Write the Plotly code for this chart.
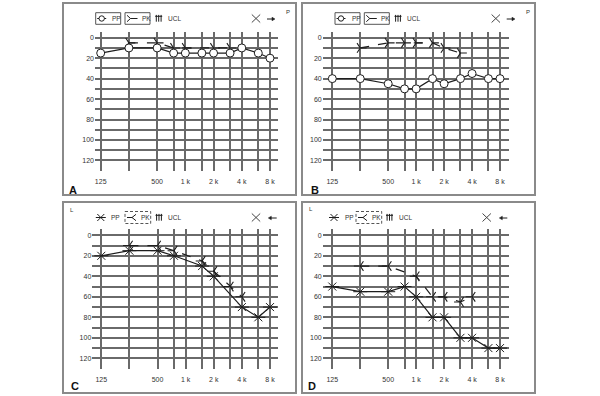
import plotly.graph_objects as go

W, H = 600, 396

# ---------------- data ----------------
FREQS = [125, 250, 500, 750, 1000, 1500, 2000, 3000, 4000, 6000, 8000]
FREQ_LABELS = ["125", "", "500", "", "1 k", "", "2 k", "", "4 k", "", "8 k"]
DB_TICKS = [0, 10, 20, 30, 40, 50, 60, 70, 80, 90, 100, 110, 120, 130]
DB_LABELS = ["0", "", "20", "", "40", "", "60", "", "80", "", "100", "", "120", ""]

A_PP_F = [125, 250, 500, 750, 1000, 1500, 2000, 3000, 4000, 6000, 8000]
A_PP = [15, 10, 10, 15, 15, 15, 15, 15, 10, 15, 20]
A_PK_F = [250, 500, 750, 1000, 2000, 3000]
A_PK = [5, 5, 10, 10, 10, 10]

B_PP_F = [125, 250, 500, 750, 1000, 1500, 2000, 3000, 4000, 6000, 8000]
B_PP = [40, 40, 45, 50, 50, 40, 45, 40, 35, 40, 40]
B_PK_F = [250, 500, 750, 1000, 1500, 2000, 3000]
B_PK = [10, 5, 5, 5, 5, 10, 15]

C_PP_F = [125, 250, 500, 750, 1500, 2000, 4000, 6000, 8000]
C_PP = [20, 15, 15, 20, 30, 40, 70, 80, 70]
C_PK_F = [250, 500, 750, 1500, 2000, 3000, 4000]
C_PK = [10, 10, 15, 25, 35, 50, 60]

D_PP_F = [125, 250, 500, 750, 1000, 1500, 2000, 3000, 4000, 6000, 8000]
D_PP = [50, 55, 55, 50, 60, 80, 80, 100, 100, 110, 110]
D_PK_F = [250, 500, 1000, 1500, 2000, 3000, 4000]
D_PK = [30, 30, 40, 60, 60, 65, 60]

INK = "#1e1e1e"
GRID = "#6a6a6a"
TXT = "#333333"
FONT = "Liberation Sans, Arial, sans-serif"


def PX(x):
    return x / W


def PY(y):
    return 1 - y / H


# panel geometry (pixels)
panels = [
    dict(letter="A", side="R", box=(63, 3, 296, 195), plot_x=(95, 278.3), plot_y=(32.2, 171.2),
         xr=[2.0361, 3.9916], yr=[130.5, -5.4],
         pp_f=A_PP_F, pp=A_PP, pk_f=A_PK_F, pk=A_PK,
         leg=dict(cy=18.5, b1=(95.7, 120.7), b2=(125, 150), ucl=155.7, x=256, arr=(267, 275),
                  corner=(288.3, 11.7), let=(73, 189.5))),
    dict(letter="B", side="R", box=(302, 3, 535, 195), plot_x=(322.7, 509.3), plot_y=(32.2, 171.2),
         xr=[1.9935, 4.0033], yr=[130.5, -5.4],
         pp_f=B_PP_F, pp=B_PP, pk_f=B_PK_F, pk=B_PK,
         leg=dict(cy=18.5, b1=(335, 360), b2=(364.3, 389.3), ucl=395, x=495.8, arr=(506.7, 515),
                  corner=(527.7, 11.7), let=(315, 189.5))),
    dict(letter="C", side="L", box=(63, 202, 296, 393), plot_x=(92.3, 278.3), plot_y=(229.35, 369.1),
         xr=[2.0005, 3.992], yr=[130.5, -5.8],
         pp_f=C_PP_F, pp=C_PP, pk_f=C_PK_F, pk=C_PK,
         leg=dict(cy=217.5, pp=100.8, b2=(125, 150.7), ucl=156, x=256, arr=(268.3, 276.7),
                  corner=(71.7, 210), let=(75, 385.5))),
    dict(letter="D", side="L", box=(302, 202, 535, 393), plot_x=(322.7, 509.3), plot_y=(229.35, 369.1),
         xr=[1.9935, 4.0033], yr=[130.5, -5.8],
         pp_f=D_PP_F, pp=D_PP, pk_f=D_PK_F, pk=D_PK,
         leg=dict(cy=217.5, pp=334, b2=(356, 381.7), ucl=386.5, x=486.7, arr=(499.3, 507.3),
                  corner=(311, 209.3), let=(311.7, 386))),
]

fig = go.Figure()
shapes = []
annotations = []
layout_axes = {}


def line(x0, y0, x1, y1, color=INK, width=1, dash="solid"):
    shapes.append(dict(type="line", xref="paper", yref="paper",
                       x0=PX(x0), y0=PY(y0), x1=PX(x1), y1=PY(y1),
                       line=dict(color=color, width=width, dash=dash)))


def rect(x0, y0, x1, y1, color, width=1, dash="solid"):
    shapes.append(dict(type="rect", xref="paper", yref="paper",
                       x0=PX(x0), y0=PY(y0), x1=PX(x1), y1=PY(y1),
                       line=dict(color=color, width=width, dash=dash)))


def text(x, y, s, size=6.5, xanchor="left", bold=False, color=TXT):
    annotations.append(dict(xref="paper", yref="paper", x=PX(x), y=PY(y), text=("<b>%s</b>" % s) if bold else s,
                            showarrow=False, xanchor=xanchor, yanchor="middle",
                            font=dict(family=FONT, size=size, color=color)))


for i, p in enumerate(panels):
    n = "" if i == 0 else str(i + 1)
    xa, ya = "x" + n, "y" + n
    layout_axes["xaxis" + n] = dict(
        type="log", range=p["xr"], domain=[PX(p["plot_x"][0]), PX(p["plot_x"][1])],
        anchor=ya, tickvals=FREQS, ticktext=FREQ_LABELS, showgrid=True, gridcolor=GRID,
        gridwidth=2, zeroline=False, showline=False, ticks="", ticklabelstandoff=5,
        tickfont=dict(family=FONT, size=7, color=TXT), fixedrange=True)
    layout_axes["yaxis" + n] = dict(
        range=p["yr"], domain=[PY(p["plot_y"][1]), PY(p["plot_y"][0])],
        anchor=xa, tickvals=DB_TICKS, ticktext=DB_LABELS, showgrid=True, gridcolor=GRID,
        gridwidth=2, zeroline=False, showline=False, ticks="",
        tickfont=dict(family=FONT, size=7, color=TXT), fixedrange=True)

    if p["side"] == "R":
        fig.add_trace(go.Scatter(x=p["pk_f"], y=p["pk"], xaxis=xa, yaxis=ya, mode="lines+markers",
                                 line=dict(color=INK, width=1.2, dash="dash"),
                                 marker=dict(symbol="y-right", size=8, color=INK,
                                             line=dict(color=INK, width=1.1)),
                                 showlegend=False, hoverinfo="skip"))
        fig.add_trace(go.Scatter(x=p["pp_f"], y=p["pp"], xaxis=xa, yaxis=ya, mode="lines+markers",
                                 line=dict(color=INK, width=1.2),
                                 marker=dict(symbol="circle", size=8, color="white",
                                             line=dict(color=INK, width=1)),
                                 showlegend=False, hoverinfo="skip"))
    else:
        fig.add_trace(go.Scatter(x=p["pk_f"], y=p["pk"], xaxis=xa, yaxis=ya, mode="lines+markers",
                                 line=dict(color=INK, width=1.2, dash="dash"),
                                 marker=dict(symbol="y-left", size=8, color=INK,
                                             line=dict(color=INK, width=1.1)),
                                 showlegend=False, hoverinfo="skip"))
        fig.add_trace(go.Scatter(x=p["pp_f"], y=p["pp"], xaxis=xa, yaxis=ya, mode="lines+markers",
                                 line=dict(color=INK, width=1.2),
                                 marker=dict(symbol="x-thin", size=8, color=INK,
                                             line=dict(color=INK, width=1)),
                                 showlegend=False, hoverinfo="skip"))
        fig.add_trace(go.Scatter(x=p["pp_f"], y=p["pp"], xaxis=xa, yaxis=ya, mode="markers",
                                 marker=dict(symbol="line-ew", size=10, color=INK,
                                             line=dict(color=INK, width=1)),
                                 showlegend=False, hoverinfo="skip"))

    # panel border
    bx0, by0, bx1, by1 = p["box"]
    rect(bx0, by0, bx1, by1, "#8a8a8a", width=2)

    L = p["leg"]
    cy = L["cy"]
    if p["side"] == "R":
        b1 = L["b1"]
        rect(b1[0], cy - 5.8, b1[1], cy + 5.8, "#555555", width=1)
        cx = b1[0] + 6
        line(cx - 4.5, cy, cx + 4.5, cy, width=1)
        shapes.append(dict(type="circle", xref="paper", yref="paper",
                           x0=PX(cx - 2.7), x1=PX(cx + 2.7), y0=PY(cy + 2.7), y1=PY(cy - 2.7),
                           fillcolor="white", line=dict(color=INK, width=1)))
        text(b1[0] + 14.5, cy, "PP")
        b2 = L["b2"]
        rect(b2[0], cy - 5.8, b2[1], cy + 5.8, "#555555", width=1)
        vx = b2[0] + 5.5
        line(b2[0] + 2, cy - 3.2, vx, cy, width=1)
        line(b2[0] + 2, cy + 3.2, vx, cy, width=1)
        line(vx, cy, vx + 7, cy, width=1)
        text(b2[0] + 14.5, cy, "PK")
        # arrow to the right
        a0, a1 = L["arr"]
        line(a0, cy + 0.5, a1 - 2.5, cy + 0.5, width=1)
        shapes.append(dict(type="path", xref="paper", yref="paper",
                           path="M %f,%f L %f,%f L %f,%f Z" % (PX(a1), PY(cy + 0.5), PX(a1 - 3), PY(cy - 1.3),
                                                            PX(a1 - 3), PY(cy + 2.3)),
                           fillcolor=INK, line=dict(color=INK, width=0.5)))
        text(L["corner"][0], L["corner"][1], "P", size=6, xanchor="center")
    else:
        cx = L["pp"]
        line(cx - 3.5, cy - 3.5, cx + 3.5, cy + 3.5, width=1)
        line(cx - 3.5, cy + 3.5, cx + 3.5, cy - 3.5, width=1)
        line(cx - 5, cy, cx + 5, cy, width=1)
        text(cx + 8.5, cy, "PP")
        b2 = L["b2"]
        rect(b2[0], cy - 6, b2[1], cy + 6, "#555555", width=1, dash="3px,2px")
        vx = b2[0] + 7
        line(b2[0] + 2, cy, vx, cy, width=1)
        line(vx, cy, vx + 4, cy - 3.2, width=1)
        line(vx, cy, vx + 4, cy + 3.2, width=1)
        text(b2[0] + 13.5, cy, "PK")
        # arrow to the left
        a0, a1 = L["arr"]
        line(a0 + 2.5, cy + 0.5, a1, cy + 0.5, width=1)
        shapes.append(dict(type="path", xref="paper", yref="paper",
                           path="M %f,%f L %f,%f L %f,%f Z" % (PX(a0), PY(cy + 0.5), PX(a0 + 3), PY(cy - 1.3),
                                                            PX(a0 + 3), PY(cy + 2.3)),
                           fillcolor=INK, line=dict(color=INK, width=0.5)))
        text(L["corner"][0], L["corner"][1], "L", size=6, xanchor="center")

    # UCL symbol
    u = L["ucl"]
    line(u - 0.5, cy - 2.2, u + 6.5, cy - 2.2, width=1)
    for dx in (0.6, 3, 5.4):
        line(u + dx, cy - 3.6, u + dx, cy + 3.2, width=1)
    text(u + 10, cy, "UCL")

    # big X
    xc = L["x"]
    line(xc - 4.2, cy - 4, xc + 4.2, cy + 4, color="#444444", width=1)
    line(xc - 4.2, cy + 4, xc + 4.2, cy - 4, color="#444444", width=1)

    # panel letter
    lx, ly = L["let"]
    text(lx, ly, p["letter"], size=11, xanchor="center", bold=True, color="#111111")

fig.update_layout(width=W, height=H, margin=dict(l=0, r=0, t=0, b=0),
                  paper_bgcolor="white", plot_bgcolor="white", showlegend=False,
                  shapes=shapes, annotations=annotations, **layout_axes)

fig.write_html("out.html", config={"displayModeBar": False, "staticPlot": True},
               post_script="document.body.style.margin='0';document.body.style.padding='0';"
                           "document.body.style.overflow='hidden';")
